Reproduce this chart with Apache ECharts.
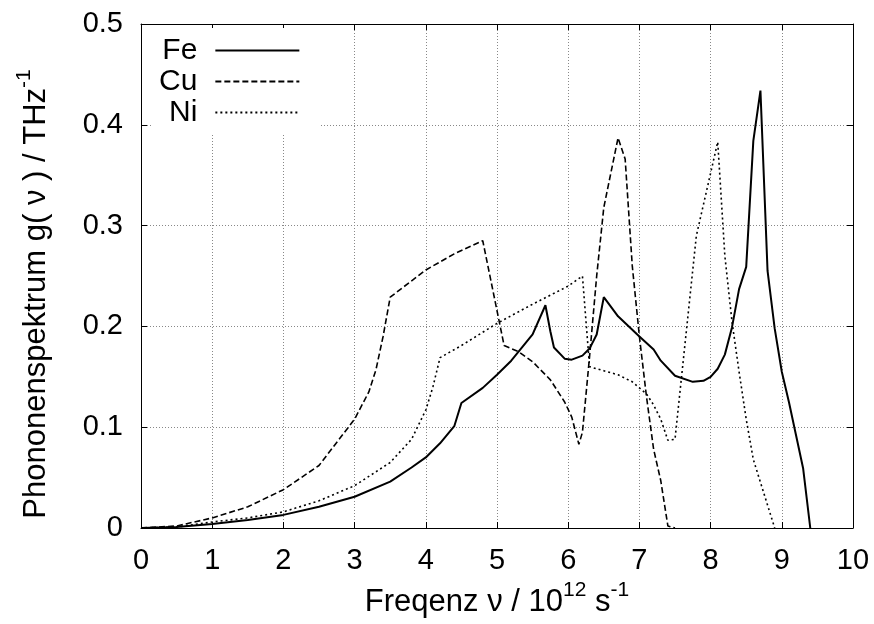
<!DOCTYPE html>
<html>
<head>
<meta charset="utf-8">
<script src="https://cdn.jsdelivr.net/npm/echarts@6/dist/echarts.min.js"></script>
<style>html,body{margin:0;padding:0;background:#fff}#c{width:874px;height:624px}</style>
</head>
<body>
<div id="c"></div>
<script>
const feX = [0,0.5,1,1.5,2,2.5,3,3.5,3.8,4,4.2,4.4,4.5,4.8,5.0,5.2,5.5,5.68,5.75,5.8,5.95,6.05,6.2,6.3,6.4,6.5,6.7,7.0,7.2,7.3,7.5,7.75,7.9,8.0,8.1,8.2,8.3,8.4,8.5,8.6,8.7,8.8,8.9,9.0,9.1,9.2,9.3,9.4];
const feY = [0,0.001,0.004,0.008,0.013,0.021,0.031,0.046,0.060,0.070,0.084,0.101,0.124,0.139,0.152,0.166,0.192,0.221,0.195,0.179,0.168,0.167,0.171,0.178,0.192,0.229,0.210,0.190,0.177,0.166,0.151,0.145,0.146,0.150,0.158,0.172,0.199,0.237,0.259,0.384,0.434,0.255,0.198,0.155,0.125,0.092,0.059,0];
const cuX = [0,0.5,1,1.5,2,2.5,3,3.2,3.3,3.4,3.5,4.0,4.4,4.8,5.1,5.3,5.5,5.75,5.95,6.05,6.15,6.2,6.3,6.4,6.5,6.7,6.8,6.9,7.0,7.1,7.2,7.3,7.4,7.5];
const cuY = [0,0.002,0.010,0.021,0.038,0.062,0.108,0.135,0.157,0.19,0.229,0.256,0.272,0.285,0.181,0.175,0.165,0.147,0.125,0.110,0.083,0.095,0.170,0.250,0.318,0.387,0.366,0.260,0.190,0.130,0.078,0.047,0.002,0];
const niX = [0,0.5,1,1.5,2,2.5,3,3.5,3.8,4.0,4.1,4.2,4.5,5.0,5.5,6.0,6.2,6.3,6.5,6.7,6.9,7.0,7.1,7.2,7.3,7.4,7.5,7.8,8.1,8.2,8.3,8.4,8.5,8.6,8.9];
const niY = [0,0.001,0.006,0.010,0.016,0.027,0.042,0.065,0.088,0.117,0.140,0.169,0.181,0.203,0.222,0.240,0.250,0.160,0.156,0.152,0.145,0.139,0.133,0.122,0.108,0.087,0.088,0.290,0.383,0.270,0.205,0.155,0.108,0.068,0];
const seriesNames = ['Fe','Cu','Ni'];
const xTicks = {min:0, max:10, step:1};
const yTicks = {min:0, max:0.5, step:0.1};

const FONT = "'Liberation Sans', Arial, sans-serif";
const pairs = (xs, ys) => xs.map((x, i) => [x, ys[i]]);

const chart = echarts.init(document.getElementById('c'), null, {renderer:'canvas'});
const gridLine = {show:true, lineStyle:{color:'#888', width:1, type:[1,2]}};
const axLine = {show:true, onZero:false, lineStyle:{color:'#000', width:1}};
const tick = {show:true, inside:true, length:6, lineStyle:{color:'#000', width:1}};
const richTitle = {
  a:{fontSize:31, fontFamily:FONT, color:'#000', verticalAlign:'bottom', lineHeight:38},
  s:{fontSize:21, fontFamily:FONT, color:'#000', verticalAlign:'top', lineHeight:38}
};

chart.setOption({
  animation:false,
  backgroundColor:'#fff',
  grid:{left:141, top:24, right:21, bottom:96, containLabel:false},
  legend:{
    data:seriesNames, orient:'vertical', align:'right', left:153, top:28,
    itemWidth:84, itemHeight:20, itemGap:0,
    itemStyle:{opacity:0},
    backgroundColor:'#fff', padding:[7,20,7,6],
    textStyle:{fontSize:30, fontFamily:FONT, color:'#000', lineHeight:31, padding:[0,13,0,0]}
  },
  xAxis:[
    {type:'value', min:xTicks.min, max:xTicks.max, interval:xTicks.step, position:'bottom',
     axisLine:axLine, axisTick:tick, splitLine:gridLine,
     axisLabel:{fontSize:29, fontFamily:FONT, color:'#000', margin:18},
     name:'{a|Freqenz ν / 10}{s|12}{a| s}{s|-1}', nameLocation:'middle', nameGap:52,
     nameTextStyle:{rich:richTitle}},
    {type:'value', min:xTicks.min, max:xTicks.max, interval:xTicks.step, position:'top',
     axisLine:axLine, axisTick:tick, splitLine:{show:false}, axisLabel:{show:false}}
  ],
  yAxis:[
    {type:'value', min:yTicks.min, max:yTicks.max, interval:yTicks.step, position:'left',
     axisLine:axLine, axisTick:tick, splitLine:gridLine,
     axisLabel:{fontSize:29, fontFamily:FONT, color:'#000', margin:18},
     name:'{a|Phononenspektrum g( ν ) / THz}{s|-1}', nameLocation:'middle', nameGap:89, nameRotate:90,
     nameTextStyle:{padding:[0,36,0,0], rich:richTitle}},
    {type:'value', min:yTicks.min, max:yTicks.max, interval:yTicks.step, position:'right',
     axisLine:axLine, axisTick:tick, splitLine:{show:false}, axisLabel:{show:false}}
  ],
  series:[
    {name:'Fe', type:'line', data:pairs(feX, feY), symbol:'none', showSymbol:false,
     lineStyle:{color:'#000', width:2, type:'solid'}, itemStyle:{color:'#000'}},
    {name:'Cu', type:'line', data:pairs(cuX, cuY), symbol:'none', showSymbol:false,
     lineStyle:{color:'#000', width:1.6, type:[6,3]}, itemStyle:{color:'#000'}},
    {name:'Ni', type:'line', data:pairs(niX, niY), symbol:'none', showSymbol:false,
     lineStyle:{color:'#000', width:1.6, type:[2,3]}, itemStyle:{color:'#000'}}
  ]
});
</script>
</body>
</html>
